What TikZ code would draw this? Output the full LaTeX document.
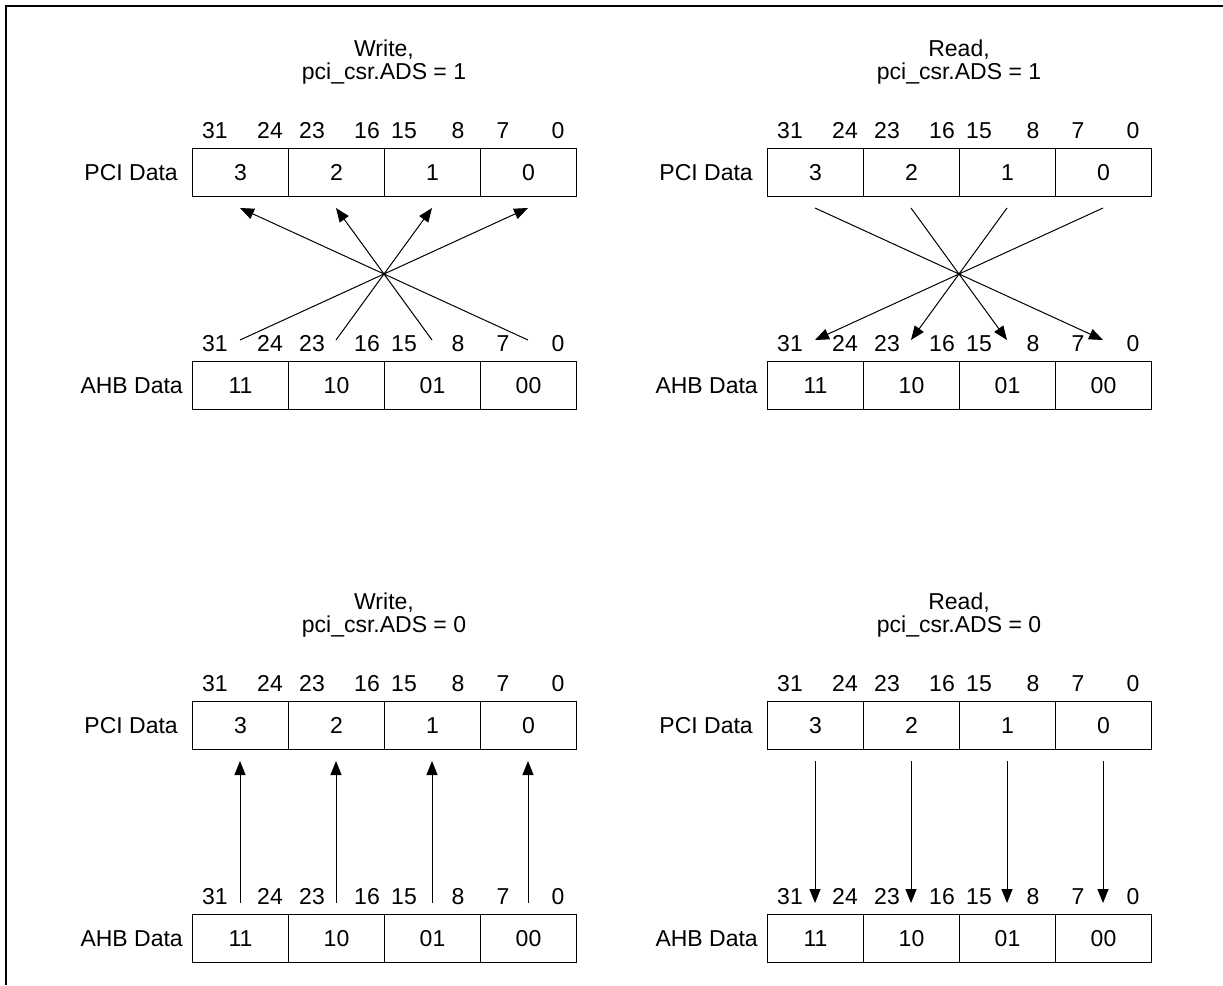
\documentclass[tikz,border=0pt]{standalone}
\usepackage{fontspec}
\setmainfont{Liberation Sans}
\usetikzlibrary{arrows.meta}
\newcommand\fsz{\fontsize{23}{27}\selectfont}
\tikzset{
  txt/.style={font=\fsz, inner sep=0pt, text height=16.5pt, text depth=0pt},
  cell/.style={txt, draw, line width=1pt, minimum width=96pt, minimum height=48pt,
    anchor=north west},
  bitlbl/.style={txt},
  rowlbl/.style={txt, anchor=east},
  ttl/.style={txt},
  conn/.style={line width=1pt, -{Triangle[length=14pt,width=11pt]}},
  frame/.style={line width=2.5pt}
}
\newcommand\regpanel[5]{%
\begin{scope}[shift={(#1,#2)}]
  \node[ttl] (#3t1) at (192,-100) {#4};
  \node[ttl] (#3t2) at (192,-77) {pci\_csr.ADS = #5};
  \node[rowlbl] (#3pl) at (-14,24) {PCI Data};
  \node[rowlbl] (#3al) at (-9,237) {AHB Data};
  \foreach \i/\t in {0/3,1/2,2/1,3/0} {\node[cell] (#3p\i) at (96*\i,0) {\t};}
  \foreach \i/\t in {0/11,1/10,2/01,3/00} {\node[cell] (#3a\i) at (96*\i,213) {\t};}
  \foreach \x/\t in {23/31,78/24,120/23,175/16,212/15,266/8,311/7,366/0} {
    \node[bitlbl] (#3pb\t) at (\x,-18) {\t};
    \node[bitlbl] (#3ab\t) at (\x,195) {\t};
  }
  \foreach \i in {0,...,3} {
    \coordinate (#3u\i) at (48+96*\i,60);
    \coordinate (#3d\i) at (48+96*\i,192);
    \coordinate (#3v\i) at (48+96*\i,202);
  }
\end{scope}}
\begin{document}
\begin{tikzpicture}[x=1pt,y=-1pt]
  \useasboundingbox (0,0) rectangle (1223,985);
  \fill[white] (0,0) rectangle (1223,985);
  \draw[frame] (6,985) -- (6,6) -- (1223,6);

  \regpanel{192}{148}{TL}{Write,}{1}
  \regpanel{767}{148}{TR}{Read,}{1}
  \regpanel{192}{701}{BL}{Write,}{0}
  \regpanel{767}{701}{BR}{Read,}{0}

  \foreach \i in {0,...,3} {
    \pgfmathtruncatemacro\j{3-\i}
    \draw[conn] (TLd\i) -- (TLu\j);
    \draw[conn] (TRu\i) -- (TRd\j);
    \draw[conn] (BLv\i) -- (BLu\i);
    \draw[conn] (BRu\i) -- (BRv\i);
  }
\end{tikzpicture}
\end{document}
